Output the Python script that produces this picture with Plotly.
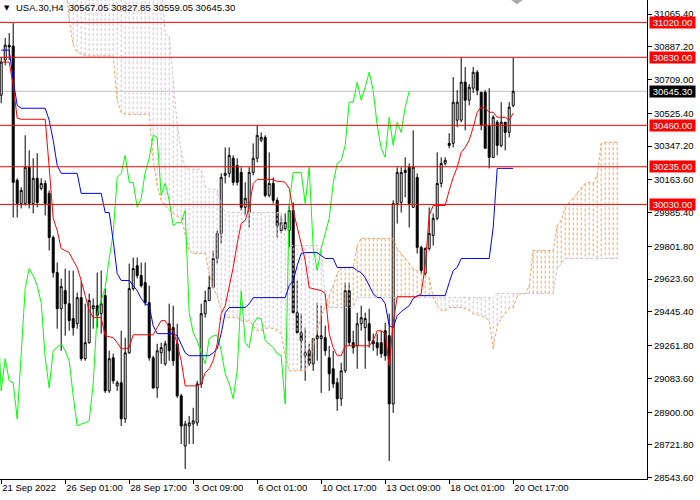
import plotly.graph_objects as go

# ---- price data (H4 bars, index 0 = 21 Sep 2022 09:00) ----
opens = [
    30624, 30815, 30896, 30891, 30161, 30035, 30035, 30232, 30035, 30172,
    30117, 30144, 30090, 29850, 29659, 29463, 29561, 29490, 29409, 29381,
    29523, 29191, 29278, 29463, 29479, 29436, 29534, 29016, 29196, 29043,
    29060, 28864, 29223, 29572, 29697, 29643, 29605, 29496, 29196, 29032,
    29223, 29163, 29381, 29360, 29272, 28989, 28716, 28825, 28836, 28842,
    29054, 29436, 29507, 29578, 29736, 29872, 30188, 30199, 30281, 30242,
    30204, 30014, 29986, 30204, 30281, 30379, 30395, 30079, 30144, 30052,
    29888, 29899, 29888, 29997, 29441, 29332, 29207, 29234, 29163, 29300,
    29300, 29305, 29196, 29136, 29060, 28973, 29125, 29561, 29278, 29261,
    29381, 29360, 29381, 29289, 29278, 29278, 29343, 29316, 28945, 30035,
    30041, 30215, 30232, 30014, 30177, 29796, 29654, 29790, 29861, 29954,
    30144, 30253, 30362, 30362, 30488, 30488, 30695, 30597, 30662, 30749,
    30640, 30640, 30460, 30286, 30477, 30351, 30477, 30422, 30567.05,
]
highs = [
    30831, 30935, 30962, 31016, 30172, 30123, 30406, 30324, 30281, 30308,
    30172, 30161, 30106, 29861, 29714, 29627, 29681, 29670, 29670, 29550,
    29616, 29490, 29545, 29518, 29659, 29670, 29572, 29234, 29218, 29071,
    29343, 29305, 29708, 29741, 29741, 29714, 29714, 29588, 29207, 29272,
    29278, 29289, 29490, 29479, 29381, 29000, 28853, 28880, 28924, 29071,
    29490, 29561, 29643, 29779, 29888, 30199, 30340, 30340, 30297, 30281,
    30232, 30150, 30232, 30362, 30460, 30422, 30406, 30313, 30177, 30068,
    29970, 29981, 30024, 30041, 29616, 29436, 29360, 29272, 29305, 29496,
    29479, 29371, 29261, 29234, 29087, 29169, 29605, 29605, 29343, 29441,
    29479, 29441, 29463, 29327, 29327, 29343, 29387, 29436, 30052, 30232,
    30232, 30286, 30253, 30433, 30199, 29806, 29796, 30014, 29981, 30313,
    30286, 30286, 30417, 30722, 30651, 30831, 30777, 30684, 30777, 30760,
    30640, 30651, 30662, 30515, 30488, 30586, 30477, 30586, 30827.85,
]
lows = [
    30580, 30787, 30815, 29959, 29959, 30008, 30024, 30008, 29981, 30014,
    30106, 29970, 29779, 29632, 29354, 29234, 29316, 29343, 29316, 29354,
    29180, 29180, 29272, 29354, 29360, 29327, 29005, 29005, 29054, 29016,
    28825, 28842, 29218, 29561, 29627, 29578, 29479, 29180, 29027, 28978,
    29163, 29152, 29180, 29152, 28978, 28727, 28591, 28727, 28727, 28825,
    29032, 29414, 29507, 29578, 29708, 29817, 30144, 30177, 30133, 30133,
    29997, 29970, 29905, 30188, 30259, 30368, 30068, 30068, 30035, 29850,
    29872, 29888, 29796, 29436, 29327, 29125, 29071, 29152, 29125, 29180,
    29005, 29207, 29016, 29032, 28907, 28934, 29114, 29261, 29218, 29136,
    29343, 29136, 29251, 29234, 29207, 29196, 29180, 28635, 28896, 29926,
    29986, 30068, 29905, 30014, 29763, 29654, 29643, 29779, 29806, 29943,
    30123, 30242, 30335, 30340, 30450, 30477, 30433, 30569, 30635, 30624,
    30433, 30335, 30226, 30281, 30297, 30340, 30324, 30395, 30559.05,
]
closes = [
    30804, 30896, 30886, 30150, 30035, 30106, 30232, 30035, 30172, 30041,
    30144, 30035, 29850, 29659, 29463, 29583, 29490, 29398, 29359, 29523,
    29191, 29278, 29507, 29479, 29425, 29490, 29016, 29191, 29071, 29060,
    28864, 29223, 29572, 29681, 29643, 29588, 29496, 29196, 29032, 29234,
    29251, 29272, 29234, 29180, 28989, 28825, 28836, 28842, 28853, 29054,
    29436, 29507, 29578, 29736, 29872, 30177, 30199, 30297, 30150, 30150,
    30014, 30063, 30204, 30281, 30406, 30395, 30079, 30144, 30052, 29915,
    29932, 29932, 29997, 29441, 29332, 29289, 29223, 29163, 29300, 29316,
    29316, 29234, 29109, 29054, 28973, 29125, 29561, 29278, 29251, 29381,
    29414, 29409, 29289, 29272, 29251, 29218, 29207, 28945, 30035, 30204,
    30204, 30204, 30035, 30232, 29796, 29670, 29790, 29872, 29954, 30144,
    30253, 30270, 30351, 30586, 30586, 30695, 30597, 30667, 30749, 30651,
    30460, 30335, 30286, 30504, 30351, 30477, 30422, 30559, 30645.30,
]

# ---- Ichimoku lines ----
tenkan = [
    30804, 30804, 30804, 30678, 30499, 30493, 30493, 30493, 30493, 30493,
    30493, 30493, 30232, 29954, 29888, 29790, 29779, 29768, 29725, 29687,
    29616, 29534, 29452, 29414, 29414, 29414, 29316, 29311, 29305, 29278,
    29245, 29245, 29251, 29321, 29321, 29321, 29321, 29321, 29321, 29360,
    29398, 29398, 29360, 29343, 29272, 29180, 29043, 29043, 29043, 29043,
    29054, 29114, 29136, 29180, 29272, 29436, 29479, 29588, 29687, 29817,
    29926, 29943, 30014, 30144, 30166, 30166, 30166, 30166, 30166, 30155,
    30155, 30150, 30117, 29997, 29904, 29817, 29725, 29577, 29572, 29566,
    29561, 29545, 29327, 29251, 29207, 29207, 29261, 29261, 29261, 29261,
    29261, 29261, 29261, 29289, 29343, 29343, 29327, 29152, 29387, 29528,
    29528, 29528, 29528, 29528, 29528, 29545, 29697, 29970, 30024, 30024,
    30024, 30024, 30106, 30177, 30232, 30313, 30340, 30379, 30450, 30531,
    30559, 30553, 30531, 30531, 30504, 30504, 30504, 30488, 30526,
]
kijun = [
    30869, 30869, 30869, 30706, 30569, 30553, 30553, 30553, 30553, 30553,
    30553, 30553, 30488, 30379, 30242, 30199, 30199, 30199, 30199, 30199,
    30090, 30090, 30090, 30090, 30090, 30090, 29986, 29986, 29834, 29654,
    29616, 29616, 29616, 29588, 29561, 29518, 29490, 29479, 29370, 29327,
    29327, 29327, 29327, 29327, 29316, 29272, 29223, 29207, 29207, 29207,
    29207, 29207, 29207, 29223, 29245, 29327, 29441, 29469, 29469, 29469,
    29469, 29469, 29490, 29523, 29523, 29523, 29523, 29523, 29523, 29523,
    29523, 29523, 29588, 29616, 29697, 29763, 29768, 29768, 29768, 29768,
    29752, 29736, 29736, 29736, 29687, 29687, 29687, 29687, 29687, 29670,
    29659, 29632, 29588, 29545, 29523, 29523, 29490, 29370, 29360, 29425,
    29447, 29463, 29479, 29518, 29534, 29534, 29534, 29534, 29534, 29534,
    29534, 29534, 29605, 29670, 29687, 29736, 29736, 29736, 29736, 29736,
    29736, 29736, 29736, 29904, 30226, 30226, 30226, 30226, 30226,
]
CLOUD_START = 16  # first bar index of the cloud arrays
span_a = [
    31250, 31033, 30896, 30858, 30847, 30842, 30837, 30837, 30837, 30837,
    30837, 30837, 30837, 30597, 30531, 30520, 30520, 30520, 30520, 30520,
    30520, 30520, 30270, 30133, 30052, 30024, 29997, 29981, 29964, 29959,
    29861, 29779, 29763, 29763, 29763, 29763, 29654, 29572, 29534, 29452,
    29420, 29414, 29414, 29414, 29398, 29392, 29398, 29370, 29343, 29343,
    29354, 29360, 29354, 29343, 29327, 29207, 29125, 29125, 29125, 29125,
    29125, 29163, 29261, 29343, 29425, 29479, 29534, 29588, 29654, 29687,
    29687, 29687, 29687, 29806, 29845, 29845, 29845, 29845, 29845, 29845,
    29845, 29845, 29845, 29790, 29763, 29741, 29714, 29681, 29670, 29654,
    29643, 29632, 29523, 29479, 29452, 29452, 29469, 29469, 29469, 29469,
    29463, 29452, 29436, 29430, 29425, 29414, 29398, 29245, 29370, 29409,
    29436, 29463, 29469, 29528, 29545, 29545, 29588, 29779, 29779, 29779,
    29779, 29779, 29779, 29915, 29943, 30014, 30041, 30068, 30095, 30122,
    30144, 30150, 30144, 30188, 30362, 30368, 30368, 30368, 30368,
]
span_b = [
    31250, 31250, 31250, 31250, 31250, 31250, 31250, 31250, 31250, 31250,
    31250, 31250, 31250, 31250, 31250, 31250, 31250, 31250, 31250, 31250,
    31250, 31250, 31250, 31250, 31250, 30956, 30946, 30706, 30460, 30324,
    30226, 30221, 30221, 30221, 30221, 30133, 30112, 30112, 30112, 30024,
    29992, 29986, 29986, 29986, 29986, 29986, 29986, 29986, 29986, 29986,
    29986, 29986, 29986, 29986, 29986, 29834, 29806, 29806, 29806, 29806,
    29806, 29806, 29806, 29806, 29806, 29507, 29469, 29469, 29469, 29469,
    29469, 29469, 29469, 29523, 29523, 29523, 29523, 29523, 29523, 29523,
    29523, 29523, 29523, 29523, 29523, 29523, 29523, 29523, 29523, 29523,
    29523, 29523, 29523, 29523, 29523, 29523, 29523, 29523, 29523, 29523,
    29523, 29523, 29523, 29523, 29523, 29523, 29523, 29523, 29545, 29545,
    29545, 29545, 29545, 29545, 29545, 29545, 29545, 29545, 29545, 29545,
    29545, 29545, 29545, 29681, 29708, 29736, 29736, 29736, 29736, 29736,
    29736, 29736, 29736, 29736, 29736, 29736, 29736, 29736, 29736,
]
CHIKOU_SHIFT = 26

# ---- axis / annotations ----
tick_bars = [0, 16, 32, 48, 64, 80, 96, 112, 128]
tick_labels = ["21 Sep 2022", "26 Sep 01:00", "28 Sep 17:00", "3 Oct 09:00",
               "6 Oct 01:00", "10 Oct 17:00", "13 Oct 09:00", "18 Oct 01:00",
               "20 Oct 17:00"]
price_ticks = [31065.40, 30887.20, 30709.00, 30525.40, 30347.20, 30163.60,
               29985.40, 29801.80, 29623.60, 29445.40, 29261.80, 29083.60,
               28900.00, 28721.80, 28543.60]
levels = [31020.00, 30830.00, 30460.00, 30235.00, 30030.00]
last_price = 30645.30
title = "USA.30,H4  30567.05 30827.85 30559.05 30645.30"

FONT = "Liberation Sans"
n = len(closes)
bars = list(range(n))

fig = go.Figure()

# cloud hatch: one dotted vertical per bar between span A and span B
hatch = {"up": ([], []), "dn": ([], [])}
cloud_bars = list(range(CLOUD_START, CLOUD_START + len(span_a)))
for i, a, b in zip(cloud_bars, span_a, span_b):
    if a == b:
        continue
    key = "up" if a > b else "dn"
    hatch[key][0].extend([i, i, None])
    hatch[key][1].extend([a, b, None])

for key, col in (("up", "#F4A460"), ("dn", "#D8BFD8")):
    fig.add_trace(go.Scatter(x=hatch[key][0], y=hatch[key][1], mode="lines",
                             line=dict(color=col, width=1, dash="3px,2px"),
                             hoverinfo="skip"))

fig.add_trace(go.Scatter(x=cloud_bars, y=span_b, mode="lines",
                         line=dict(color="#D8BFD8", width=1, dash="3px,2px"),
                         hoverinfo="skip"))
fig.add_trace(go.Scatter(x=cloud_bars, y=span_a, mode="lines",
                         line=dict(color="#F4A460", width=1, dash="3px,2px"),
                         hoverinfo="skip"))

# level lines
for lv in levels:
    fig.add_shape(type="line", xref="paper", x0=0, x1=1, yref="y", y0=lv, y1=lv,
                  line=dict(color="#FF0000", width=1))
fig.add_shape(type="line", xref="paper", x0=0, x1=1, yref="y", y0=last_price,
              y1=last_price, line=dict(color="#C0C0C0", width=1), layer="below")

# chart-shift marker at the top edge
fig.add_shape(type="path", xref="paper", yref="paper",
              path="M 0.790 1 L 0.808 1 L 0.799 0.991 Z",
              fillcolor="#A8A8A8", line=dict(width=0))

fig.add_trace(go.Candlestick(
    x=bars, open=opens, high=highs, low=lows, close=closes,
    increasing=dict(line=dict(color="black", width=1), fillcolor="white"),
    decreasing=dict(line=dict(color="black", width=1), fillcolor="black"),
    whiskerwidth=0, hoverinfo="skip"))

fig.add_trace(go.Scatter(x=[i - CHIKOU_SHIFT for i in bars], y=closes, mode="lines",
                         line=dict(color="#00FF00", width=1), hoverinfo="skip"))
fig.add_trace(go.Scatter(x=bars, y=kijun, mode="lines",
                         line=dict(color="#0000FF", width=1), hoverinfo="skip"))
fig.add_trace(go.Scatter(x=bars, y=tenkan, mode="lines",
                         line=dict(color="#FF0000", width=1), hoverinfo="skip"))

# right-side price boxes
for lv in levels:
    fig.add_annotation(xref="paper", x=1, xanchor="left", xshift=2, y=lv, yref="y",
                       text=f"{lv:.2f}", showarrow=False, bgcolor="#FF0000",
                       font=dict(family=FONT, size=9.5, color="white"),
                       width=45, height=11, borderpad=0)
fig.add_annotation(xref="paper", x=1, xanchor="left", xshift=2, y=last_price, yref="y",
                   text=f"{last_price:.2f}", showarrow=False, bgcolor="black",
                   font=dict(family=FONT, size=9.5, color="white"),
                   width=45, height=11, borderpad=0)

fig.add_annotation(xref="paper", yref="paper", x=0, y=1, xanchor="left", yanchor="top",
                   xshift=2, yshift=-2, text="▼", showarrow=False,
                   font=dict(family="DejaVu Sans", size=7, color="black"))
fig.add_annotation(xref="paper", yref="paper", x=0, y=1, xanchor="left", yanchor="top",
                   xshift=14, yshift=0, text=title, showarrow=False,
                   font=dict(family=FONT, size=9.5, color="black"))

fig.update_layout(
    width=700, height=500,
    margin=dict(l=0, r=53, t=0, b=21, autoexpand=False),
    paper_bgcolor="white", plot_bgcolor="white",
    showlegend=False,
    xaxis=dict(range=[-0.3, 161.45], tickvals=tick_bars, ticktext=tick_labels,
               tickangle=0, automargin=False,
               ticks="outside", ticklen=4, tickcolor="black",
               ticklabelposition="outside right",
               showline=True, linecolor="black", linewidth=1,
               showgrid=False, zeroline=False, rangeslider=dict(visible=False),
               tickfont=dict(family=FONT, size=9.5, color="black")),
    yaxis=dict(side="right", range=[28536.6, 31141.7], tickvals=price_ticks,
               ticktext=[f"{v:.2f}" for v in price_ticks], automargin=False,
               ticks="outside", ticklen=4, tickcolor="black",
               showline=True, linecolor="black", linewidth=1,
               showgrid=False, zeroline=False,
               tickfont=dict(family=FONT, size=9.5, color="black")),
)

# page body has a default 8px margin; drop it so the chart fills the window
fig.write_html("out.html", config={"displayModeBar": False},
               post_script="document.body.style.margin='0px';")
